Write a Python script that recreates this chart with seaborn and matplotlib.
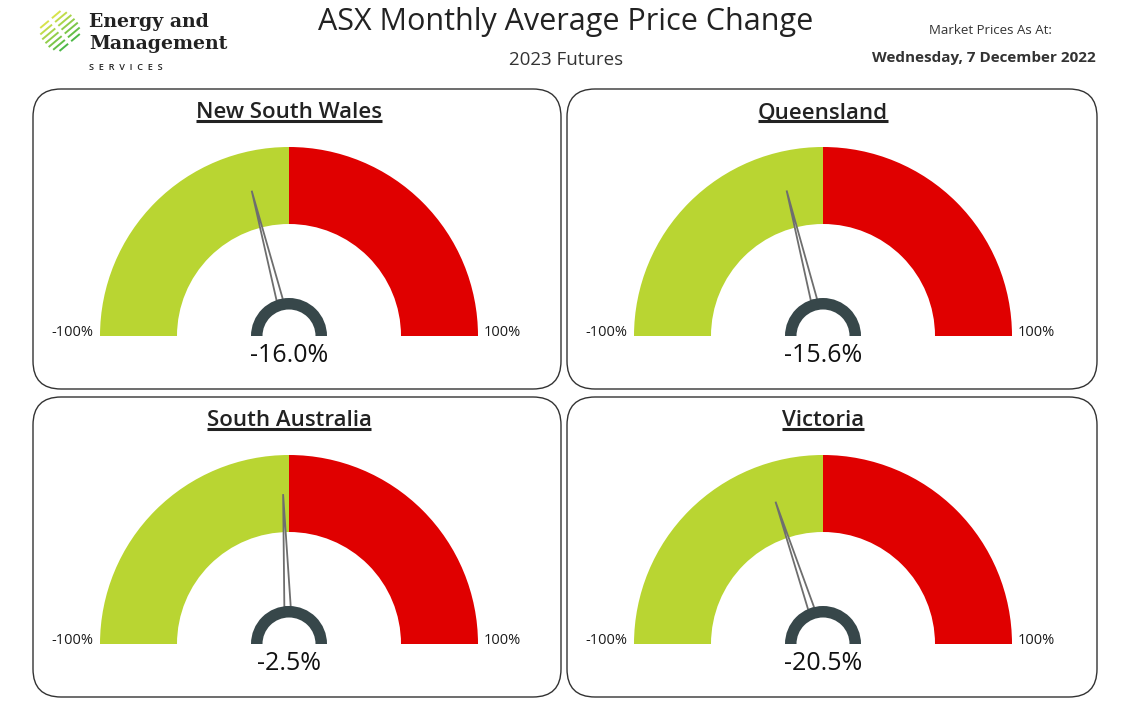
import numpy as np
import matplotlib.pyplot as plt
import seaborn as sns
from matplotlib.patches import Wedge, FancyBboxPatch, Polygon

# gauge data
regions = ["New South Wales", "Queensland", "South Australia", "Victoria"]
changes = [-16.0, -15.6, -2.5, -20.5]
scale_min = -100
scale_max = 100
min_label = "-100%"
max_label = "100%"

title = "ASX Monthly Average Price Change"
subtitle = "2023 Futures"
asat_label = "Market Prices As At:"
asat_date = "Wednesday, 7 December 2022"

sns.set_theme(style="white")
plt.rcParams['font.family'] = ['Open Sans', 'DejaVu Sans']

green, red = "#B9D532", "#E00000"
hub_col = "#37474A"
needle_col = "#6E6E6E"
W, H = 1135, 719

fig = plt.figure(figsize=(W / 100, H / 100), dpi=100)
ax = fig.add_axes([0, 0, 1, 1])
ax.set_xlim(0, W)
ax.set_ylim(H, 0)
ax.axis("off")

# header
ax.text(566, 22, title, ha="center", va="center", fontsize=22, color="#222222")
ax.text(566, 60, subtitle, ha="center", va="center", fontsize=13.5, color="#333333")
ax.text(990, 31, asat_label, ha="center", va="center", fontsize=9.5, color="#333333")
ax.text(984, 58, asat_date, ha="center", va="center", fontsize=11, fontweight="bold", color="#333333")

# logo
stripe_cols = sns.blend_palette(["#4DB848", "#D7E34B"], 7)
for i, c in enumerate(stripe_cols):
    off = (i - 3) * 5.0
    for a, b in [(-19, -2), (2, 19)]:
        t = np.array([a, b])
        half = np.sqrt(max(20 ** 2 - off ** 2, 0))
        t = np.clip(t, -half, half)
        xs = 60 + t * np.cos(np.radians(40)) - off * np.sin(np.radians(40))
        ys = 31 - t * np.sin(np.radians(40)) - off * np.cos(np.radians(40))
        ax.plot(xs, ys, color=c, lw=1.4, solid_capstyle="butt")
ax.text(89, 22, "Energy and", ha="left", va="center", fontsize=13.6, fontweight="bold",
        family="DejaVu Serif", color="#222222")
ax.text(89, 44, "Management", ha="left", va="center", fontsize=13.6, fontweight="bold",
        family="DejaVu Serif", color="#222222")
ax.text(89, 68, "S  E  R  V  I  C  E  S", ha="left", va="center", fontsize=6.6,
        fontweight="semibold", color="#222222")

renderer = fig.canvas.get_renderer()
r_out, r_in = 189, 112
span = scale_max - scale_min

for k, (name, val) in enumerate(zip(regions, changes)):
    col, row = k % 2, k // 2
    x0 = [33, 567][col]
    y0 = 89 + row * 308
    pw = [528, 530][col]
    ax.add_patch(FancyBboxPatch((x0, y0), pw, 300, boxstyle="round,pad=0,rounding_size=28",
                                fc="white", ec="#333333", lw=1.0))
    cx, cy = x0 + 256, y0 + 247

    # bands: y axis is inverted so the upper half is 180..360
    ax.add_patch(Wedge((cx, cy), r_out, 180, 270, width=r_out - r_in, fc=green, ec="none"))
    ax.add_patch(Wedge((cx, cy), r_out, 270, 360, width=r_out - r_in, fc=red, ec="none"))

    # needle
    th = np.radians(180 + (val - scale_min) / span * 180)
    ux, uy = np.cos(th), np.sin(th)
    px, py = -uy, ux
    tip = (cx + 150 * ux, cy + 150 * uy)
    b1 = (cx + 37 * ux + 3.2 * px, cy + 37 * uy + 3.2 * py)
    b2 = (cx + 37 * ux - 3.2 * px, cy + 37 * uy - 3.2 * py)
    ax.add_patch(Polygon([tip, b1, b2], closed=True, fc="white", ec=needle_col, lw=1.3))

    # hub
    ax.add_patch(Wedge((cx, cy), 38, 180, 360, width=11.5, fc=hub_col, ec="none"))

    ax.text(cx - 196, cy - 4, min_label, ha="right", va="center", fontsize=10.5, color="#1a1a1a")
    ax.text(cx + 195, cy - 4, max_label, ha="left", va="center", fontsize=10.5, color="#1a1a1a")
    ax.text(cx, cy + 19, f"{val:.1f}%", ha="center", va="center", fontsize=18, color="#111111")

    t = ax.text(cx, y0 + 23.5, name, ha="center", va="center", fontsize=16,
                fontweight="semibold", color="#222222")
    bb = t.get_window_extent(renderer)
    ax.plot([bb.x0, bb.x1], [y0 + 32, y0 + 32], color="#222222", lw=2.2, solid_capstyle="butt")

fig.savefig("out.png", dpi=100, facecolor="white")
